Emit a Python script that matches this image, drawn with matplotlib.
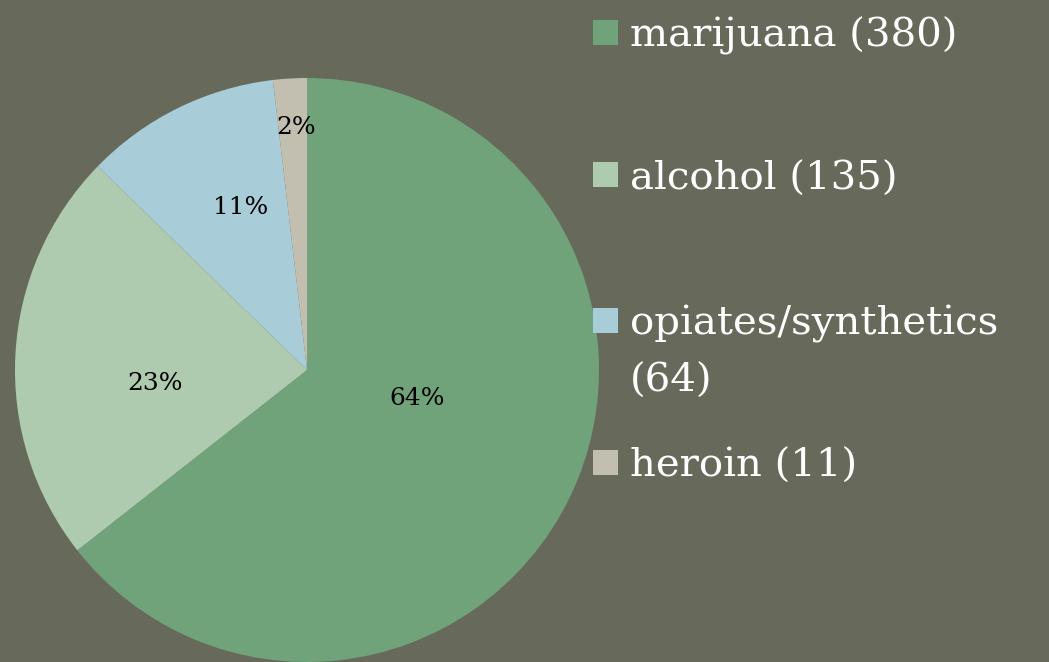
import matplotlib
matplotlib.use("Agg")
import matplotlib.pyplot as plt
from matplotlib.patches import Rectangle

# ---------------------------------------------------------------------------
# Data
# ---------------------------------------------------------------------------
categories = ["marijuana", "alcohol", "opiates/synthetics", "heroin"]
counts = [380, 135, 64, 11]
legend_labels = ["marijuana (380)", "alcohol (135)", "opiates/synthetics\n(64)", "heroin (11)"]

# ---------------------------------------------------------------------------
# Style / layout
# ---------------------------------------------------------------------------
BG = "#676A5B"
colors = ["#70A37A", "#AECBB0", "#A9CDD8", "#C3BFB0"]
FONT = "DejaVu Serif"
W, H = 1049, 662

# label positions (pie data coords), legend rows (pixel y of first line)
pct_pos = [(0.377, -0.096), (-0.521, -0.045), (-0.226, 0.558), (-0.038, 0.829)]
legend_rows = [32, 175, 320, 462]
line_step = 57

fig = plt.figure(figsize=(W / 100, H / 100), dpi=100)
fig.patch.set_facecolor(BG)

cx, cy, r = 307, 370, 292
ax = fig.add_axes([(cx - r) / W, (H - cy - r) / H, 2 * r / W, 2 * r / H])
ax.set_facecolor(BG)

wedges, texts, autotexts = ax.pie(
    counts,
    colors=colors,
    startangle=90,
    counterclock=False,
    autopct="%1.0f%%",
    wedgeprops=dict(linewidth=0),
    textprops=dict(family=FONT, fontsize=18, color="black"),
)
for t, (x, y) in zip(autotexts, pct_pos):
    t.set_position((x, y))
    t.set_ha("center")
    t.set_va("center")
ax.set_xlim(-1, 1)
ax.set_ylim(-1, 1)
ax.set_aspect("equal")
ax.axis("off")

# ---------------------------------------------------------------------------
# Legend drawn by hand (PowerPoint-style)
# ---------------------------------------------------------------------------
sq = 25
for label, col, y in zip(legend_labels, colors, legend_rows):
    fig.patches.append(Rectangle((593 / W, (H - y - sq / 2) / H), sq / W, sq / H,
                                 transform=fig.transFigure, facecolor=col,
                                 edgecolor="none"))
    for i, line in enumerate(label.split("\n")):
        fig.text(630 / W, (H - y - i * line_step) / H, line, family=FONT,
                 fontsize=29, color="white", ha="left", va="center_baseline")

fig.savefig("out.png", dpi=100, facecolor=BG)
